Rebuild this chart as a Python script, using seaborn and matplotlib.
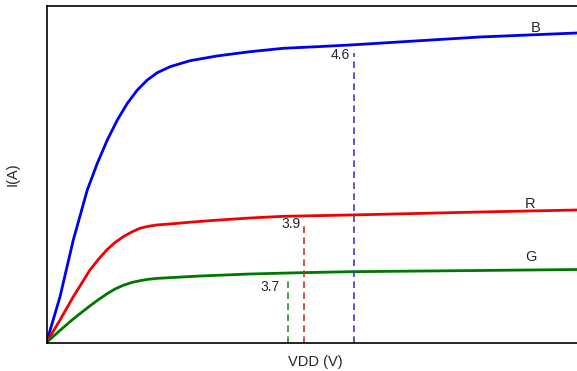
import numpy as np
import pandas as pd
import matplotlib
matplotlib.use('Agg')
import matplotlib.pyplot as plt
import seaborn as sns

# ---- curves (x: VDD, y: current, arbitrary units) ----
vdd_b = [0, 0.204, 0.404, 0.615, 0.766, 0.917, 1.068, 1.219, 1.370, 1.520, 1.671,
         1.863, 2.164, 2.567, 3.069, 3.572, 4.075, 4.578, 6.538, 8.0]
i_b = [0, 1.361, 3.046, 4.532, 5.325, 6.018, 6.612, 7.108, 7.504, 7.801, 8.018,
       8.196, 8.374, 8.514, 8.642, 8.743, 8.790, 8.841, 9.079, 9.198]

vdd_r = [0, 0.204, 0.404, 0.656, 0.781, 0.908, 1.033, 1.158, 1.285, 1.410, 1.535,
         1.662, 1.908, 2.164, 2.567, 3.069, 3.572, 4.578, 6.538, 8.0]
i_r = [0, 0.669, 1.361, 2.155, 2.467, 2.749, 2.972, 3.144, 3.284, 3.394, 3.453,
       3.492, 3.530, 3.575, 3.635, 3.700, 3.750, 3.789, 3.878, 3.938]

vdd_g = [0, 0.204, 0.404, 0.656, 0.781, 0.908, 1.033, 1.158, 1.285, 1.410, 1.535,
         1.662, 1.908, 2.315, 3.069, 3.824, 4.578, 6.538, 8.0]
i_g = [0, 0.360, 0.700, 1.090, 1.270, 1.441, 1.590, 1.700, 1.783, 1.837, 1.878,
       1.905, 1.932, 1.976, 2.036, 2.074, 2.104, 2.140, 2.169]

# dashed markers (green, red, blue)
mark_x = [3.647, 3.884, 4.639]
mark_top = [1.86, 3.52, 8.60]
mark_lbl = ['3.7', '3.9', '4.6']

curve_names = ['B', 'R', 'G']

# ---- styling / placement ----
curve_cols = {'B': '#0000f0', 'R': '#f00000', 'G': '#007800'}
mark_col = ['#2e8b2e', '#c83232', '#3c3cc8']
lbl_x = [3.522, 3.834, 4.578]
lbl_y = [1.658, 3.52, 8.53]
name_x = [7.383, 7.297, 7.311]
name_y = [9.346, 4.122, 2.535]

sns.set_style('white')
plt.rcParams['font.family'] = ['Liberation Sans', 'DejaVu Sans']

fig = plt.figure(figsize=(5.77, 3.71), dpi=100)
ax = fig.add_axes([46.5 / 577, (371 - 342.5) / 371, 1 - 46.5 / 577, 336.5 / 371])

df = pd.concat([
    pd.DataFrame({'VDD': vdd_b, 'I': i_b, 'c': 'B'}),
    pd.DataFrame({'VDD': vdd_r, 'I': i_r, 'c': 'R'}),
    pd.DataFrame({'VDD': vdd_g, 'I': i_g, 'c': 'G'}),
])
sns.lineplot(data=df, x='VDD', y='I', hue='c', palette=curve_cols,
             linewidth=2.0, legend=False, ax=ax, sort=False, estimator=None)
for line in ax.lines:
    line.set_solid_joinstyle('round')

for x, top, lbl, col, tx, ty in zip(mark_x, mark_top, mark_lbl, mark_col, lbl_x, lbl_y):
    ax.plot([x, x], [0, top], ls=(0, (4, 2.6)), color=col, lw=1.2)
    ax.text(tx, ty, lbl, ha='right', va='center', fontsize=10)

for name, tx, ty in zip(curve_names, name_x, name_y):
    ax.text(tx, ty, name, ha='center', va='center', fontsize=10.5)

ax.set_xlim(0, 8)
ax.set_ylim(0, 10)
ax.set_xticks([])
ax.set_yticks([])
ax.set_xlabel('VDD (V)', fontsize=10.5)
ax.set_ylabel('I(A)', fontsize=10.5)
ax.xaxis.set_label_coords((315 - 46.5) / 530.5, -(362 - 342.5) / 336.5)
ax.yaxis.set_label_coords(-(46.5 - 13) / 530.5, 0.5)
ax.xaxis.label.set_va('center')
ax.yaxis.label.set_va('center')
for s in ['left', 'bottom', 'top']:
    ax.spines[s].set_color('black')
    ax.spines[s].set_linewidth(1.2)
ax.spines['right'].set_visible(False)

fig.savefig('out.png', dpi=100)
